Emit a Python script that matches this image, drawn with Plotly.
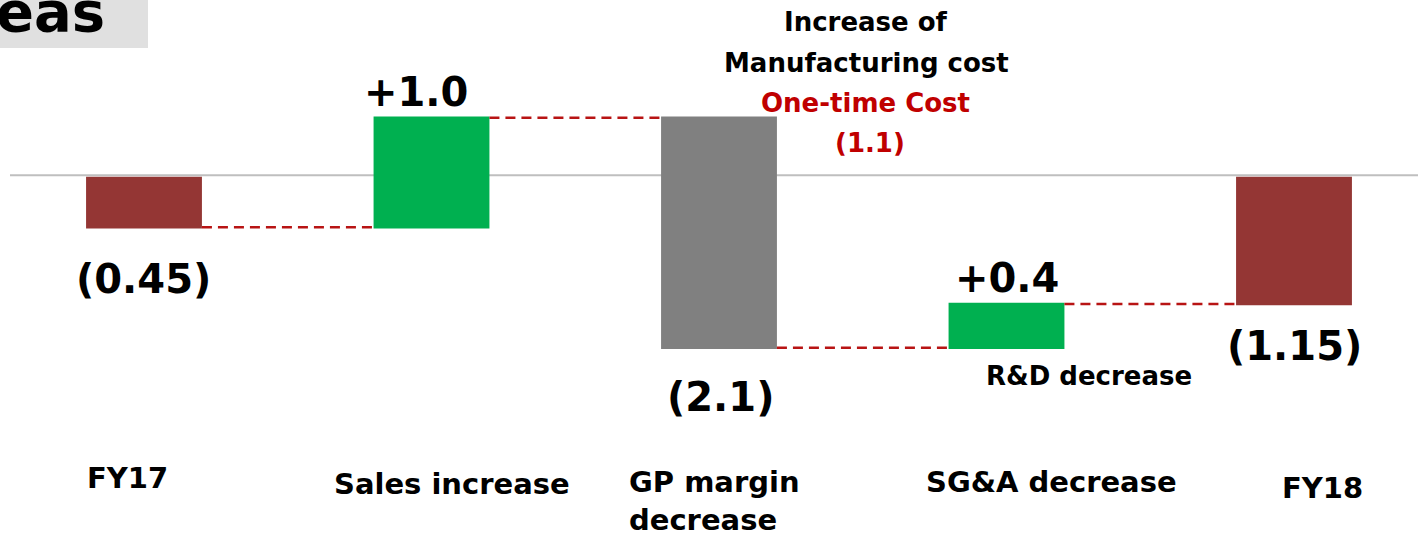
import plotly.graph_objects as go

# Operating income bridge, FY17 -> FY18
categories = ["FY17", "Sales increase", "GP margin<br>decrease", "SG&A decrease", "FY18"]
changes = [-0.45, 1.0, -2.1, 0.4, -1.15]
measures = ["absolute", "relative", "relative", "relative", "total"]

FONT = "DejaVu Sans"
DARK_RED = "#c00000"


def fmt(v):
    s = f"{abs(v):.2f}".rstrip("0")
    if s.endswith("."):
        s += "0"
    return f"+{s}" if v > 0 else f"({s})"


# running levels of each bar (start, end)
levels = []
run = 0.0
for m, v in zip(measures, changes):
    if m == "absolute":
        start, end = 0.0, v
    elif m == "total":
        start, end = 0.0, run
    else:
        start, end = run, run + v
    run = end
    levels.append((start, end))

fig = go.Figure(
    go.Waterfall(
        x=list(range(len(categories))),
        y=changes,
        measure=measures,
        width=0.403,
        increasing=dict(marker=dict(color="#00b050", line=dict(width=0))),
        decreasing=dict(marker=dict(color="#808080", line=dict(width=0))),
        totals=dict(marker=dict(color="#943634", line=dict(width=0))),
        connector=dict(mode="between", line=dict(color="#b81414", width=2.5, dash="10px,6px")),
        hoverinfo="skip",
        showlegend=False,
    )
)

# value labels above/below each bar
label_offsets = [(-1, -52), (-16, 26), (1, -49), (0, 26), (0, -42)]
for i, (v, (start, end)) in enumerate(zip(changes, levels)):
    lo = min(start, end)
    hi = max(start, end)
    up = v > 0
    dx, dy = label_offsets[i]
    fig.add_annotation(
        x=i, y=hi if up else lo, text=fmt(v if measures[i] == "relative" else end),
        showarrow=False, xanchor="center", yanchor="middle",
        xshift=dx, yshift=dy,
        font=dict(family=FONT, size=40, color="black", weight="bold"),
    )

# category captions
cat_pos = [(-17, 478, "center"), (20, 484, "center"), (-92, 501, "left"), (45, 482, "center"), (28, 488, "center")]
H = 536
for i, (cat, (dx, py, al)) in enumerate(zip(categories, cat_pos)):
    fig.add_annotation(
        x=i, y=1 - py / H, yref="paper", text=cat, showarrow=False,
        xanchor=al, yanchor="middle", align="left", xshift=dx,
        font=dict(family=FONT, size=29, color="black", weight="bold"),
    )

# notes
notes = [
    ("Increase of", 866, 22, "black"),
    ("Manufacturing cost", 866, 63, "black"),
    ("One-time Cost", 865, 103, DARK_RED),
    ("(1.1)", 870, 143, DARK_RED),
    ("R&D decrease", 1089, 376, "black"),
]
for txt, px, py, col in notes:
    fig.add_annotation(
        x=px / 1418, y=1 - py / H, xref="paper", yref="paper", text=txt,
        showarrow=False, xanchor="center", yanchor="middle",
        font=dict(family=FONT, size=26, color=col, weight="bold"),
    )

# header box
fig.add_shape(type="rect", xref="paper", yref="paper", x0=0, x1=148 / 1418,
              y0=1 - 48 / H, y1=1, fillcolor="#e0e0e0", line=dict(width=0), layer="below")
fig.add_annotation(
    x=0, y=1 - 12 / H, xref="paper", yref="paper", text="eas", showarrow=False,
    xanchor="left", yanchor="middle", xshift=-6,
    font=dict(family=FONT, size=56, color="black", weight="bold"),
)

# zero line
fig.add_shape(type="line", xref="paper", yref="y", x0=10 / 1418, x1=1, y0=0.025, y1=0.025,
              line=dict(color="#bfbfbf", width=2), layer="below")

scale = 109.5
x_step = 287.5
x_min = -144 / x_step
fig.update_layout(
    width=1418, height=536,
    margin=dict(l=0, r=0, t=0, b=0),
    plot_bgcolor="white", paper_bgcolor="white",
    xaxis=dict(range=[x_min, x_min + 1418 / x_step], visible=False, fixedrange=True),
    yaxis=dict(range=[178 / scale - 536 / scale, 178 / scale], visible=False, fixedrange=True),
)

fig.write_html("out.html")
